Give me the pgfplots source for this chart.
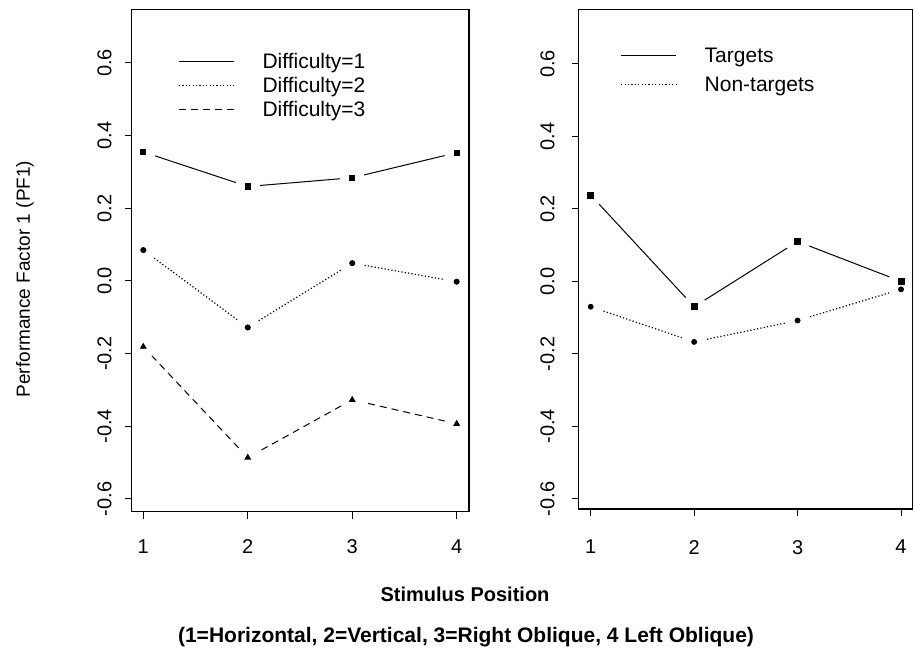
\documentclass[border=0pt]{standalone}
\usepackage{fontspec}
\setmainfont{Liberation Sans}
\usepackage{pgfplots}
\pgfplotsset{compat=1.18}
\begin{document}
\begin{tikzpicture}
\useasboundingbox (0,0) rectangle (457pt,-327pt);
\pgfplotsset{
  panel/.style={
    scale only axis, anchor=south west, axis on top,
    tick align=outside, major tick length=3.5pt, tick pos=left,
    xtick={1,2,3,4}, xticklabels={1,2,3,4},
    ytick={-0.6,-0.4,-0.2,0,0.2,0.4,0.6},
    yticklabels={-0.6,-0.4,-0.2,0.0,0.2,0.4,0.6},
    tick style={black, line width=0.5pt},
    axis line style={line width=0.6pt},
    ticklabel style={font=\fontsize{10}{12}\selectfont},
    yticklabel style={rotate=90, anchor=south},
    clip=true, clip mode=individual,
    legend style={draw=none, fill=none, anchor=north west, inner sep=0pt,
      font=\fontsize{10.5}{12}\selectfont, column sep=14pt,
      nodes={inner sep=0pt, text height=7.6pt, text depth=2.4pt}},
    legend cell align=left,
    legend image code/.code={\draw[##1] (0pt,1pt) -- (27.5pt,1pt);},
  },
  ln/.style={black, line width=0.5pt, no marks},
  dotl/.style={black, line width=0.6pt, no marks, dash pattern=on 0.6pt off 1.1pt},
  dashl/.style={black, line width=0.5pt, no marks, dash pattern=on 3.5pt off 2.5pt},
  halo/.style={only marks, mark=*, mark size=6pt, mark options={draw=white, fill=white}, forget plot},
}
% Left panel
\begin{axis}[panel, at={(65.85pt,-255.85pt)}, width=168.65pt, height=251.1pt,
  xmin=0.889, xmax=4.118, ymin=-0.635, ymax=0.747,
  yticklabel style={yshift=3pt}, xticklabel style={yshift=-7pt},
  legend style={at={(rel axis cs:0.137,0.913)}, row sep=2pt}]
\addplot[ln] coordinates {(1,0.355) (2,0.260) (3,0.284) (4,0.353)};
\addlegendentry{Difficulty=1}
\addplot[dotl] coordinates {(1,0.085) (2,-0.128) (3,0.049) (4,-0.002)};
\addlegendentry{Difficulty=2}
\addplot[dashl] coordinates {(1,-0.181) (2,-0.486) (3,-0.327) (4,-0.393)};
\addlegendentry{Difficulty=3}
\addplot[halo] coordinates {(1,0.355) (2,0.260) (3,0.284) (4,0.353)};
\addplot[halo] coordinates {(1,0.085) (2,-0.128) (3,0.049) (4,-0.002)};
\addplot[halo] coordinates {(1,-0.181) (2,-0.486) (3,-0.327) (4,-0.393)};
\addplot[only marks, mark=square*, mark size=1.3pt, black, forget plot] coordinates {(1,0.355) (2,0.260) (3,0.284) (4,0.353)};
\addplot[only marks, mark=*, mark size=1.3pt, black, forget plot] coordinates {(1,0.085) (2,-0.128) (3,0.049) (4,-0.002)};
\addplot[only marks, mark=triangle*, mark size=1.6pt, black, forget plot] coordinates {(1,-0.181) (2,-0.486) (3,-0.327) (4,-0.393)};
\end{axis}
% Right panel
\begin{axis}[panel, at={(289.35pt,-254.5pt)}, width=167pt, height=249.75pt,
  xmin=0.884, xmax=4.113, ymin=-0.628, ymax=0.750,
  yticklabel style={yshift=5pt}, xticklabel style={yshift=-8.5pt},
  legend style={at={(rel axis cs:0.124,0.925)}, row sep=4.5pt}]
\addplot[ln] coordinates {(1,0.238) (2,-0.070) (3,0.110) (4,0.000)};
\addlegendentry{Targets}
\addplot[dotl] coordinates {(1,-0.070) (2,-0.167) (3,-0.108) (4,-0.022)};
\addlegendentry{Non-targets}
\addplot[halo] coordinates {(1,0.238) (2,-0.070) (3,0.110) (4,0.000)};
\addplot[halo] coordinates {(1,-0.070) (2,-0.167) (3,-0.108) (4,-0.022)};
\addplot[only marks, mark=square*, mark size=1.5pt, black, forget plot] coordinates {(1,0.238) (2,-0.070) (3,0.110) (4,0.000)};
\addplot[only marks, mark=*, mark size=1.25pt, black, forget plot] coordinates {(1,-0.070) (2,-0.167) (3,-0.108) (4,-0.022)};
\end{axis}
\node[rotate=90, font=\fontsize{9.5}{11}\selectfont] at (12.5pt,-139.5pt) {Performance Factor 1 (PF1)};
\node[font=\bfseries\fontsize{10}{12}\selectfont] at (232.5pt,-297pt) {Stimulus Position};
\node[font=\bfseries\fontsize{10.5}{12}\selectfont] at (233pt,-318.5pt) {(1=Horizontal, 2=Vertical, 3=Right Oblique, 4 Left Oblique)};
\end{tikzpicture}
\end{document}
